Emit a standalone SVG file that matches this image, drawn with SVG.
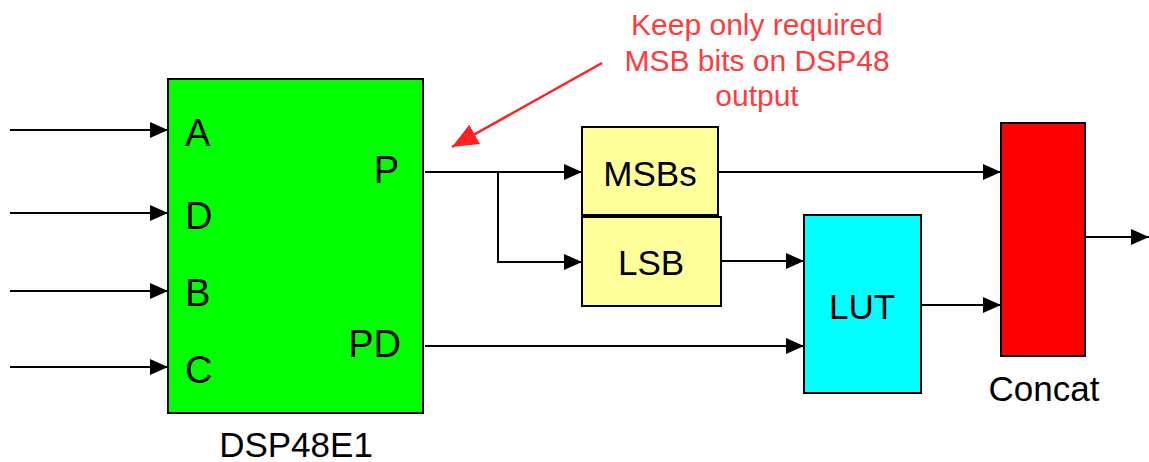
<svg xmlns="http://www.w3.org/2000/svg" width="1149" height="462" viewBox="0 0 1149 462">
<style>
text{font-family:"Liberation Sans",Arial,sans-serif;fill:#000}
.box{stroke:#000;stroke-width:2}
.lbl{font-size:38px}
.mid{font-size:35px;text-anchor:middle}
.wire{fill:none;stroke:#000;stroke-width:2}
.note{font-size:30px;fill:#ff3b3b;text-anchor:middle}
</style>
<defs>
<marker id="ah" markerWidth="20" markerHeight="16" refX="18" refY="8" orient="auto" markerUnits="userSpaceOnUse">
<path d="M0,0 L18,8 L0,16 Z" fill="#000"/>
</marker>
<marker id="rah" markerWidth="28" markerHeight="22" refX="26" refY="11" orient="auto" markerUnits="userSpaceOnUse">
<path d="M0,0 L26,11 L0,22 Z" fill="#ff2222"/>
</marker>
</defs>
<g id="connectors">
<path class="wire" d="M10,130 H168" marker-end="url(#ah)"/>
<path class="wire" d="M10,213 H168" marker-end="url(#ah)"/>
<path class="wire" d="M10,291 H168" marker-end="url(#ah)"/>
<path class="wire" d="M10,367 H168" marker-end="url(#ah)"/>
<path class="wire" d="M425,172 H582" marker-end="url(#ah)"/>
<path class="wire" d="M498,172 V262 H582" marker-end="url(#ah)"/>
<path class="wire" d="M721,261 H804" marker-end="url(#ah)"/>
<path class="wire" d="M425,346 H804" marker-end="url(#ah)"/>
<path class="wire" d="M718,172 H1001" marker-end="url(#ah)"/>
<path class="wire" d="M921,305 H1001" marker-end="url(#ah)"/>
<path class="wire" d="M1085,237 H1149" marker-end="url(#ah)"/>
</g>
<g id="dsp48e1">
<rect class="box" x="168" y="79" width="255" height="334" fill="#00ff00"/>
<text class="lbl" x="185" y="146">A</text>
<text class="lbl" x="185" y="229">D</text>
<text class="lbl" x="185" y="306">B</text>
<text class="lbl" x="185" y="383">C</text>
<text class="lbl" x="399" y="183" text-anchor="end">P</text>
<text class="lbl" x="401" y="357" text-anchor="end">PD</text>
<text class="mid" x="296" y="457">DSP48E1</text>
</g>
<g id="msbs">
<rect class="box" x="582" y="127" width="136" height="88" fill="#ffff99"/>
<text class="mid" x="650" y="186">MSBs</text>
</g>
<g id="lsb">
<rect class="box" x="582" y="217" width="139" height="89" fill="#ffff99"/>
<text class="mid" x="651" y="275">LSB</text>
</g>
<g id="lut">
<rect class="box" x="804" y="215" width="117" height="178" fill="#00ffff"/>
<text class="mid" x="862" y="319">LUT</text>
</g>
<g id="concat">
<rect class="box" x="1001" y="123" width="84" height="233" fill="#ff0000"/>
<text class="mid" x="1044" y="401">Concat</text>
</g>
<g id="note">
<text class="note" x="757" y="35">Keep only required</text>
<text class="note" x="757" y="71">MSB bits on DSP48</text>
<text class="note" x="757" y="106">output</text>
<path d="M602,63 L452,147" stroke="#ff2222" stroke-width="2.5" fill="none" marker-end="url(#rah)"/>
</g>
</svg>
